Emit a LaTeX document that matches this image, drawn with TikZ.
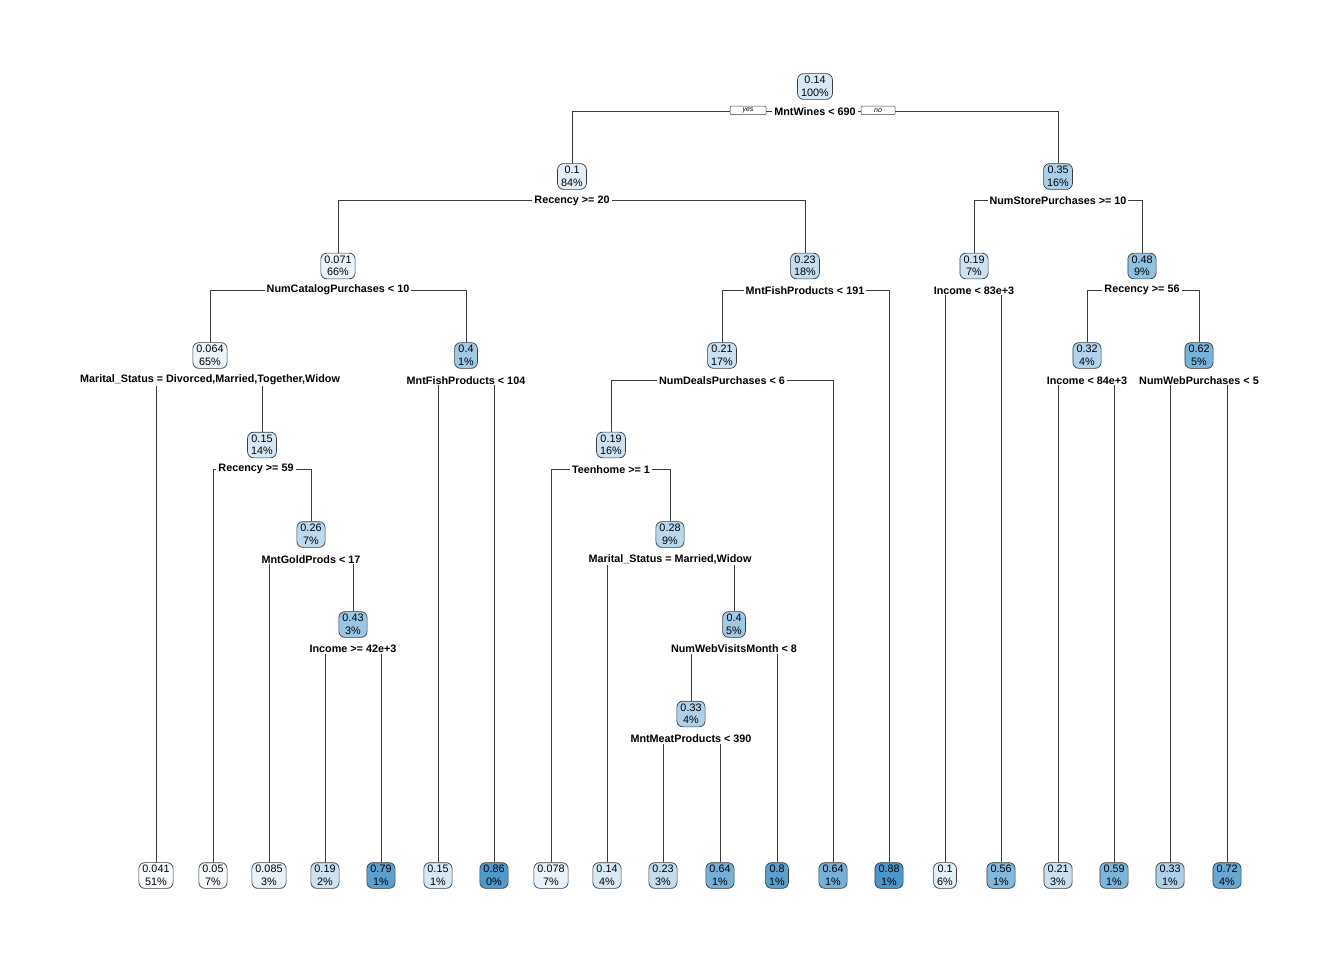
\documentclass[tikz,border=0pt]{standalone}
\usepackage{fontspec}
\setmainfont{Liberation Sans}
\usepackage{xcolor}
\usepackage{tikz}
\usetikzlibrary{backgrounds}
\definecolor{bdark}{RGB}{74,152,203}
\definecolor{blight}{RGB}{247,251,255}
\definecolor{bline}{RGB}{60,60,60}
\tikzset{
  tbox/.style={draw=bline,line width=0.7pt,rounded corners=6pt,align=center,
    inner xsep=3.6pt,inner ysep=2.8pt,font=\fontsize{10.8}{12.5}\selectfont},
  split/.style={fill=white,inner xsep=2pt,inner ysep=1pt,
    font=\fontsize{10.8}{12}\selectfont\bfseries},
  yesno/.style={draw=bline,fill=white,line width=0.5pt,rounded corners=1pt,
    minimum width=36pt,minimum height=8.5pt,inner sep=0pt,
    font=\fontsize{7}{7}\selectfont\itshape},
  tline/.style={draw=bline,line width=0.6pt}
}
% node of the tree: name, x, y, value, percent
\newcommand{\tnode}[5]{%
  \pgfmathtruncatemacro{\shadeval}{100*(max((#4-0.041)/0.839,0.0001))^0.8}%
  \node[tbox,fill=bdark!\shadeval!blight] (#1) at (#2,#3) {#4\\#5\%};}
% split edges: split label, left child, right child
\newcommand{\tedge}[3]{%
  \draw[tline] (#2.north) -- (#2.north |- #1) -- (#3.north |- #1) -- (#3.north);}

\begin{document}
\begin{tikzpicture}[x=1pt,y=-1pt]
\useasboundingbox (0,0) rectangle (1344,960);

%root
\tnode{n1}{815}{86.5}{0.14}{100}
\node[split] (s1) at (815,111.5) {MntWines < 690};
\node[yesno] (yes) at (748,110.5) {yes};
\node[yesno,minimum width=34pt] (no) at (878,110.5) {no};

%level 1
\tnode{n2}{572}{176.5}{0.1}{84}
\node[split] (s2) at (572,200.5) {Recency >= 20};
\tnode{n3}{1058}{176.5}{0.35}{16}
\node[split] (s3) at (1058,200.5) {NumStorePurchases >= 10};

%level 2
\tnode{n4}{338}{266}{0.071}{66}
\node[split] (s4) at (338,290) {NumCatalogPurchases < 10};
\tnode{n5}{805}{266}{0.23}{18}
\node[split] (s5) at (805,290.5) {MntFishProducts < 191};
\tnode{n6}{974}{266}{0.19}{7}
\node[split] (s6) at (974,290.5) {Income < 83e+3};
\tnode{n7}{1142}{266}{0.48}{9}
\node[split] (s7) at (1142,290) {Recency >= 56};

%level 3
\tnode{n8}{210}{355.5}{0.064}{65}
\node[split] (s8) at (210,380) {Marital\_Status = Divorced,Married,Together,Widow};
\tnode{n9}{466}{355.5}{0.4}{1}
\node[split] (s9) at (466,380.5) {MntFishProducts < 104};
\tnode{n10}{722}{355.5}{0.21}{17}
\node[split] (s10) at (722,380.5) {NumDealsPurchases < 6};
\tnode{n11}{1087}{355.5}{0.32}{4}
\node[split] (s11) at (1087,380.5) {Income < 84e+3};
\tnode{n12}{1199}{355.5}{0.62}{5}
\node[split] (s12) at (1199,380.5) {NumWebPurchases < 5};

%level 4
\tnode{n13}{262}{445}{0.15}{14}
\node[split] (s13) at (256,469) {Recency >= 59};
\tnode{n14}{611}{445}{0.19}{16}
\node[split] (s14) at (611,469.5) {Teenhome >= 1};

%level 5
\tnode{n15}{311}{534.5}{0.26}{7}
\node[split] (s15) at (311,559.5) {MntGoldProds < 17};
\tnode{n16}{670}{534.5}{0.28}{9}
\node[split] (s16) at (670,559) {Marital\_Status = Married,Widow};

%level 6
\tnode{n17}{353}{624.5}{0.43}{3}
\node[split] (s17) at (353,649) {Income >= 42e+3};
\tnode{n18}{734}{624.5}{0.4}{5}
\node[split] (s18) at (734,649) {NumWebVisitsMonth < 8};

%level 7
\tnode{n19}{691}{714}{0.33}{4}
\node[split] (s19) at (691,739) {MntMeatProducts < 390};

%leaves
\tnode{l1}{156}{875.5}{0.041}{51}
\tnode{l2}{213}{875.5}{0.05}{7}
\tnode{l3}{269}{875.5}{0.085}{3}
\tnode{l4}{325}{875.5}{0.19}{2}
\tnode{l5}{381}{875.5}{0.79}{1}
\tnode{l6}{438}{875.5}{0.15}{1}
\tnode{l7}{494}{875.5}{0.86}{0}
\tnode{l8}{551}{875.5}{0.078}{7}
\tnode{l9}{607}{875.5}{0.14}{4}
\tnode{l10}{663}{875.5}{0.23}{3}
\tnode{l11}{720}{875.5}{0.64}{1}
\tnode{l12}{777}{875.5}{0.8}{1}
\tnode{l13}{833}{875.5}{0.64}{1}
\tnode{l14}{889}{875.5}{0.88}{1}
\tnode{l15}{945}{875.5}{0.1}{6}
\tnode{l16}{1001}{875.5}{0.56}{1}
\tnode{l17}{1058}{875.5}{0.21}{3}
\tnode{l18}{1114}{875.5}{0.59}{1}
\tnode{l19}{1170}{875.5}{0.33}{1}
\tnode{l20}{1227}{875.5}{0.72}{4}

%edges
\begin{scope}[on background layer]
\tedge{s1}{n2}{n3}
\tedge{s2}{n4}{n5}
\tedge{s3}{n6}{n7}
\tedge{s4}{n8}{n9}
\tedge{s5}{n10}{l14}
\tedge{s6}{l15}{l16}
\tedge{s7}{n11}{n12}
\tedge{s8}{l1}{n13}
\tedge{s9}{l6}{l7}
\tedge{s10}{n14}{l13}
\tedge{s11}{l17}{l18}
\tedge{s12}{l19}{l20}
\tedge{s13}{l2}{n15}
\tedge{s14}{l8}{n16}
\tedge{s15}{l3}{n17}
\tedge{s16}{l9}{n18}
\tedge{s17}{l4}{l5}
\tedge{s18}{n19}{l12}
\tedge{s19}{l10}{l11}
\end{scope}
\end{tikzpicture}
\end{document}
